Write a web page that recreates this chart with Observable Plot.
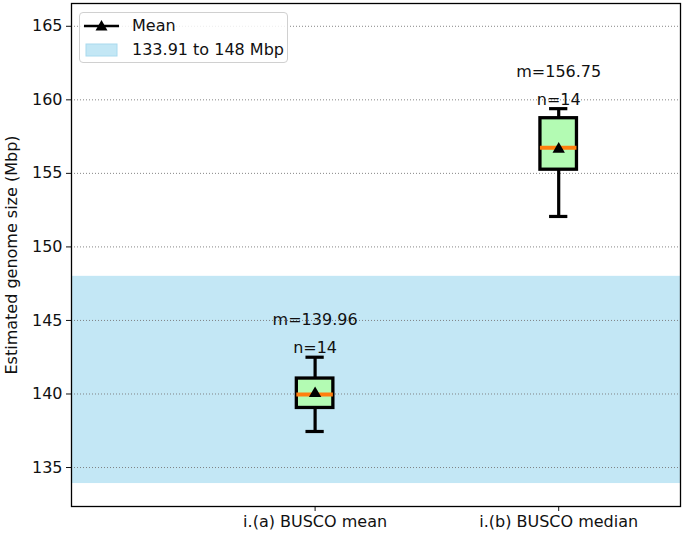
<!DOCTYPE html>
<html><head><meta charset="utf-8">
<script src="https://cdn.jsdelivr.net/npm/d3@7"></script>
<script src="https://cdn.jsdelivr.net/npm/@observablehq/plot@0.6"></script>
<style>
body{margin:0;background:#fff;font-family:"DejaVu Sans",sans-serif;}
#wrap{position:relative;width:685px;height:539px;}
#legend{position:absolute;left:79px;top:12px;width:207px;height:49px;border:1px solid #d0d0d0;border-radius:4px;background:rgba(255,255,255,0.85);font-size:16px;color:#111;}
#legend .row{position:absolute;left:0;display:flex;align-items:center;}
</style></head>
<body><div id="wrap"><div id="chart"></div>
<div id="legend">
 <div class="row" style="top:3px;left:4px;"><svg width="36" height="18"><line x1="0" y1="9" x2="35" y2="9" stroke="#000" stroke-width="2.5"/><path d="M17.5,3 L23.5,13.5 L11.5,13.5 Z" fill="#000"/></svg><span style="margin-left:12px">Mean</span></div>
 <div class="row" style="top:27px;left:5px;"><svg width="34" height="18"><rect x="1" y="3" width="31" height="12" fill="#c3e7f5" stroke="#a9daee" stroke-width="1"/></svg><span style="margin-left:13px">133.91 to 148 Mbp</span></div>
</div></div>
<script>
const categories = ["i.(a) BUSCO mean", "i.(b) BUSCO median"];
const positions = [1, 2];
const whiskerLow = [137.45, 152.07];
const q1 = [139.05, 155.25];
const medians = [139.96, 156.75];
const q3 = [141.05, 158.75];
const whiskerHigh = [142.5, 159.4];
const means = [140.03, 156.65];
const counts = [14, 14];
const bandRange = [133.91, 148];
const yTicks = [135, 140, 145, 150, 155, 160, 165];
const xDomain = [0, 2.5];
const yDomain = [132.35, 166.55];

const boxes = positions.map((p, i) => ({
  pos: p, cat: categories[i], lo: whiskerLow[i], q1: q1[i], med: medians[i],
  q3: q3[i], hi: whiskerHigh[i], mean: means[i], n: counts[i]
}));
const hw = 0.075, cw = 0.0375;

const chart = Plot.plot({
  width: 685, height: 539,
  marginLeft: 71, marginRight: 5, marginTop: 3, marginBottom: 33,
  style: {fontFamily: "DejaVu Sans", fontSize: "16px", color: "#111", background: "#fff"},
  x: {domain: xDomain},
  y: {domain: yDomain},
  marks: [
    Plot.rect([bandRange], {x1: xDomain[0], x2: xDomain[1], y1: d => d[0], y2: d => d[1], fill: "#c3e7f5"}),
    Plot.gridY(yTicks, {stroke: "#777", strokeOpacity: 1, strokeWidth: 0.9, strokeDasharray: "1,2"}),
    Plot.ruleX(boxes, {x: "pos", y1: "lo", y2: "q1", stroke: "#000", strokeWidth: 3.2}),
    Plot.ruleX(boxes, {x: "pos", y1: "q3", y2: "hi", stroke: "#000", strokeWidth: 3.2}),
    Plot.ruleY(boxes, {y: "lo", x1: d => d.pos - cw, x2: d => d.pos + cw, stroke: "#000", strokeWidth: 3.2}),
    Plot.ruleY(boxes, {y: "hi", x1: d => d.pos - cw, x2: d => d.pos + cw, stroke: "#000", strokeWidth: 3.2}),
    Plot.rect(boxes, {x1: d => d.pos - hw, x2: d => d.pos + hw, y1: "q1", y2: "q3", fill: "#b3fbb3", stroke: "#000", strokeWidth: 3.3}),
    Plot.ruleY(boxes, {y: "med", x1: d => d.pos - hw, x2: d => d.pos + hw, stroke: "#ff7f0e", strokeWidth: 4}),
    Plot.dot(boxes, {x: "pos", y: "mean", symbol: "triangle", r: 4.6, fill: "#000", stroke: "none"}),
    Plot.text(boxes, {x: "pos", y: "hi", text: d => "n=" + d.n, dy: -9, fontSize: 16, fill: "#111"}),
    Plot.text(boxes, {x: "pos", y: "hi", text: d => "m=" + d.med.toFixed(2), dy: -37, fontSize: 16, fill: "#111"}),
    Plot.axisY({ticks: yTicks, tickSize: 5, tickPadding: 4, tickFormat: d => d, label: "Estimated genome size (Mbp)", labelAnchor: "center", labelArrow: "none", labelOffset: 66, fontSize: 16}),
    Plot.axisX({ticks: positions, tickSize: 5, tickPadding: 4, tickFormat: (d, i) => categories[positions.indexOf(d)], label: null, fontSize: 16}),
    Plot.frame({stroke: "#000", strokeWidth: 1.3})
  ]
});
document.getElementById("chart").appendChild(chart);
</script>
</body></html>
